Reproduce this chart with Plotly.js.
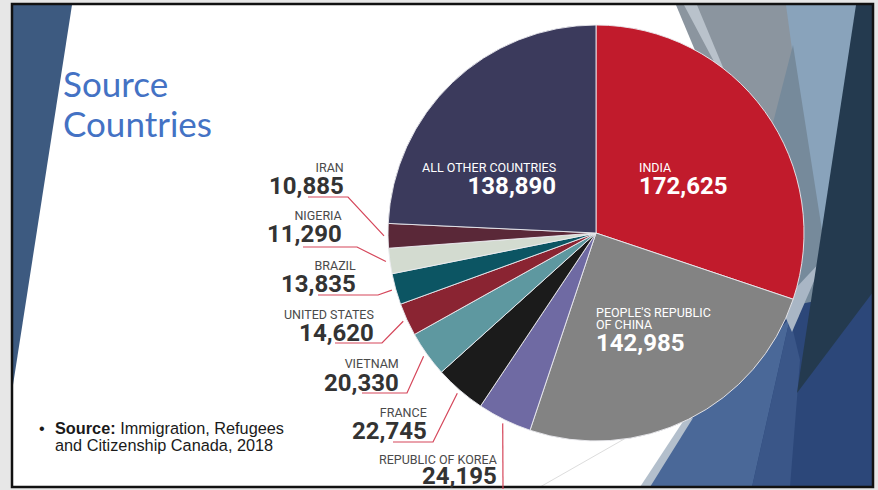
<!DOCTYPE html>
<html>
<head>
<meta charset="utf-8">
<script src="https://cdn.plot.ly/plotly-3.0.1.min.js"></script>
<style>html,body{margin:0;padding:0;background:#e7e7e7;}#chart{width:878px;height:490px;}</style>
</head>
<body>
<div id="chart"></div>
<script>
// ---- data ----
const countries = ["INDIA", "PEOPLE'S REPUBLIC OF CHINA", "REPUBLIC OF KOREA", "FRANCE", "VIETNAM", "UNITED STATES", "BRAZIL", "NIGERIA", "IRAN", "ALL OTHER COUNTRIES"];
const admissions = [172625, 142985, 24195, 22745, 20330, 14620, 13835, 11290, 10885, 138890];
const sliceColors = ["#c11b2c", "#838383", "#6f6aa3", "#1b1b1b", "#5e98a0", "#8a2432", "#0c5563", "#d3dbd0", "#5a2838", "#3b3a5c"];
const titleLines = ["Source", "Countries"];
const sourceBold = "Source:";
const sourceLines = ["Immigration, Refugees", "and Citizenship Canada, 2018"];

// ---- layout helpers ----
const W = 878, H = 490;
const px = x => x / W;
const py = y => 1 - y / H;
const CX = 596, CY = 233, R = 208;
const toPath = (pts, close) => 'M' + pts.map(p => px(p[0]).toFixed(5) + ',' + py(p[1]).toFixed(5)).join(' L') + (close ? ' Z' : '');
const fmt = v => v.toLocaleString('en-US');
const span = (t, s) => '<span style="font-size:' + s + 'px">' + t + '</span>';

const total = admissions.reduce((a, b) => a + b, 0);
const midAngle = [];
let cum = 0;
admissions.forEach(v => {
  midAngle.push((cum + v / 2) / total * 2 * Math.PI); // clockwise from 12 o'clock
  cum += v;
});
const edgePoint = (i, extra) => {
  const a = midAngle[i];
  return [CX + (R + extra) * Math.sin(a), CY - (R + extra) * Math.cos(a)];
};

const shapes = [];
shapes.push({type: 'rect', xref: 'paper', yref: 'paper', x0: px(12), x1: px(873), y0: py(487), y1: py(4), fillcolor: '#ffffff', line: {width: 0}, layer: 'below'});
shapes.push({type: 'path', xref: 'paper', yref: 'paper', path: toPath([[13,5],[72,5],[13,385]], true), fillcolor: '#3d5a80', line: {width: 0}, layer: 'below'});
const facets = [
  {pts: [[676,5],[792,5],[812,330]], c: '#8b959f'},
  {pts: [[684,5],[697,5],[745,120]], c: '#b9c2cb'},
  {pts: [[786,5],[857,5],[826,300]], c: '#89a3bb'},
  {pts: [[793,45],[712,360],[836,320]], c: '#768a9b'},
  {pts: [[873,290],[873,487],[648,487],[690,420],[795,305]], c: '#2c4779'},
  {pts: [[648,487],[690,420],[790,318],[752,487]], c: '#4a6898'},
  {pts: [[752,487],[790,318],[800,360],[790,487]], c: '#3a5688'},
  {pts: [[640,487],[650,487],[693,418],[684,420]], c: '#b3bfcc'},
  {pts: [[780,305],[824,258],[792,332]], c: '#a9b6c5'},
  {pts: [[856,5],[873,5],[873,292],[797,393]], c: '#243a4f'}
];
facets.forEach(f => shapes.push({type: 'path', xref: 'paper', yref: 'paper', path: toPath(f.pts, true), fillcolor: f.c, line: {width: 0}, layer: 'below'}));
shapes.push({type: 'line', xref: 'paper', yref: 'paper', x0: px(540), y0: py(487), x1: px(640), y1: py(430), line: {color: '#dddddd', width: 1}, layer: 'below'});
shapes.push({type: 'rect', xref: 'paper', yref: 'paper', x0: px(12), x1: px(873), y0: py(487), y1: py(4), fillcolor: 'rgba(0,0,0,0)', line: {color: '#111111', width: 2.5}, layer: 'above'});

const LBL = 12.5, VAL = 24;
function pairAnn(text1, text2, x, anchor, yl, yv, color1, color2) {
  const gap = (yv + 8.2) - (yl + 4.4);
  const base = gap / 1.3;
  const centre = (yl + yv) / 2 + 3.6;
  return {xref: 'paper', yref: 'paper', x: px(x), y: py(centre), xanchor: anchor, yanchor: 'middle', align: anchor, showarrow: false,
    text: '<span style="font-size:' + LBL + 'px;color:' + color1 + '">' + text1 + '</span><br><span style="font-size:' + VAL + 'px;color:' + color2 + '"><b>' + text2 + '</b></span>',
    font: {family: 'Roboto, sans-serif', size: base, color: color2}};
}

const outside = [
  {i: 8, xr: 346, yl: 167, yv: 185, pts: [[308,197],[348,197]]},
  {i: 7, xr: 344, yl: 215, yv: 233, pts: [[303,247],[357,247]]},
  {i: 6, xr: 358, yl: 265, yv: 283, pts: [[318,295],[378,295]]},
  {i: 5, xr: 376, yl: 314, yv: 332, pts: [[335,343],[382,343]]},
  {i: 4, xr: 401, yl: 363, yv: 382, pts: [[362,393],[407,393]]},
  {i: 3, xr: 429, yl: 412, yv: 430, pts: [[393,442],[433,442]]},
  {i: 2, xr: 499, yl: 459, yv: 475, pts: [[503,489]]}
];
const annotations = [];
outside.forEach(o => {
  annotations.push(pairAnn(countries[o.i], fmt(admissions[o.i]), o.xr, 'right', o.yl, o.yv, '#4a4a4a', '#333333'));
  shapes.push({type: 'path', xref: 'paper', yref: 'paper', path: toPath(o.pts.concat([edgePoint(o.i, 4)]), false), line: {color: '#d5465a', width: 1.2}, layer: 'above'});
});
annotations.push(pairAnn(countries[9], fmt(admissions[9]), 558, 'right', 167, 185, '#ffffff', '#ffffff'));
annotations.push(pairAnn(countries[0], fmt(admissions[0]), 637, 'left', 167, 185, '#ffffff', '#ffffff'));
const chinaWords = countries[1].split(' ');
annotations.push({xref: 'paper', yref: 'paper', x: px(594), y: py(318.5), xanchor: 'left', yanchor: 'middle', align: 'left', showarrow: false,
  text: span(chinaWords.slice(0, 2).join(' '), LBL) + '<br>' + span(chinaWords.slice(2).join(' '), LBL),
  font: {family: 'Roboto, sans-serif', size: 12 / 1.3, color: '#ffffff'}});
annotations.push({xref: 'paper', yref: 'paper', x: px(594), y: py(342.5), xanchor: 'left', yanchor: 'middle', showarrow: false,
  text: '<b>' + fmt(admissions[1]) + '</b>', font: {family: 'Roboto, sans-serif', size: VAL, color: '#ffffff'}});
annotations.push({xref: 'paper', yref: 'paper', x: px(61), y: py(103.5), xanchor: 'left', yanchor: 'middle', align: 'left', showarrow: false,
  text: titleLines.map(t => span(t, 35)).join('<br>'),
  font: {family: 'Lato, "Open Sans", sans-serif', size: 40 / 1.3, color: '#4472c4'}});
annotations.push({xref: 'paper', yref: 'paper', x: px(37), y: py(428), xanchor: 'left', yanchor: 'middle', showarrow: false, text: '•',
  font: {family: '"Liberation Sans", Arial, sans-serif', size: 16.3, color: '#1a1a1a'}});
annotations.push({xref: 'paper', yref: 'paper', x: px(53), y: py(436.7), xanchor: 'left', yanchor: 'middle', align: 'left', showarrow: false,
  text: span('<b>' + sourceBold + '</b> ' + sourceLines[0], 16.3) + '<br>' + span(sourceLines[1], 16.3),
  font: {family: '"Liberation Sans", Arial, sans-serif', size: 17 / 1.3, color: '#1a1a1a'}});

const trace = {
  type: 'pie',
  labels: countries,
  values: admissions,
  sort: false,
  direction: 'clockwise',
  rotation: 0,
  textinfo: 'none',
  hoverinfo: 'none',
  marker: {colors: sliceColors, line: {color: 'rgba(235,235,240,0.9)', width: 1}},
  domain: {x: [px(CX - R), px(CX + R)], y: [py(CY + R), py(CY - R)]},
  showlegend: false
};

Plotly.newPlot('chart', [trace], {
  width: W, height: H,
  margin: {l: 0, r: 0, t: 0, b: 0},
  paper_bgcolor: '#e7e7e7',
  showlegend: false,
  shapes: shapes,
  annotations: annotations
}, {displayModeBar: false, staticPlot: true});
</script>
</body>
</html>
